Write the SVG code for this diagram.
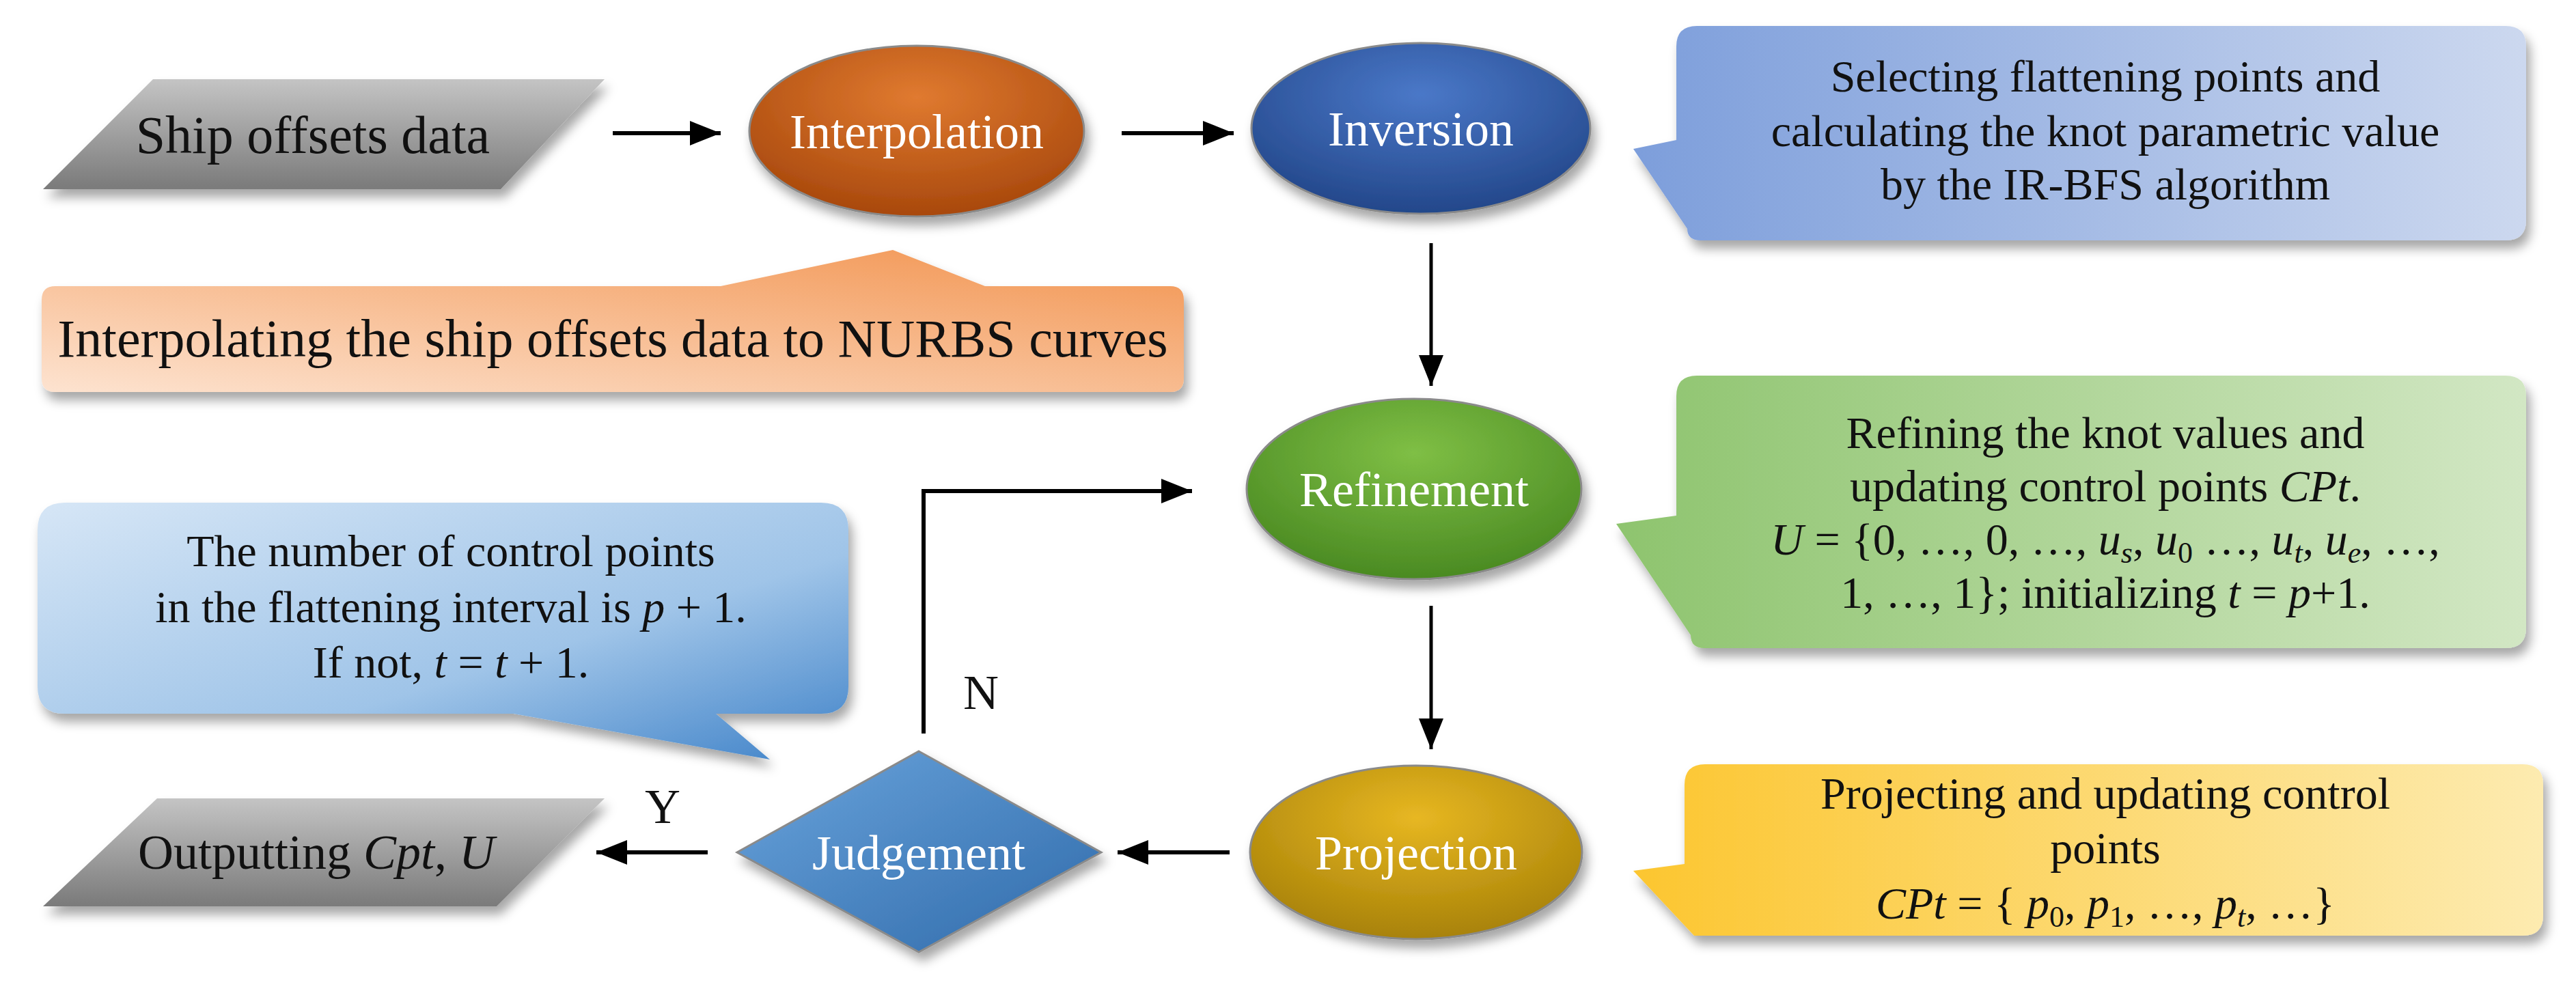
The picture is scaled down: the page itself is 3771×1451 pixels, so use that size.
<svg xmlns="http://www.w3.org/2000/svg" width="3771" height="1451" viewBox="0 0 3771 1451">
<defs>
<filter id="sh" x="-10%" y="-10%" width="125%" height="135%"><feDropShadow dx="6" dy="12" stdDeviation="8" flood-color="#000" flood-opacity="0.35"/></filter>
<linearGradient id="gGray" x1="0" y1="0" x2="0" y2="1"><stop offset="0" stop-color="#c4c4c4"/><stop offset="1" stop-color="#7a7a7a"/></linearGradient>
<radialGradient id="gOr" cx="0.5" cy="0.3" r="0.7"><stop offset="0" stop-color="#e07a30"/><stop offset="1" stop-color="#a8480c"/></radialGradient>
<radialGradient id="gBl" cx="0.5" cy="0.3" r="0.7"><stop offset="0" stop-color="#4a78c8"/><stop offset="1" stop-color="#23478a"/></radialGradient>
<radialGradient id="gGr" cx="0.5" cy="0.3" r="0.7"><stop offset="0" stop-color="#7fbf45"/><stop offset="1" stop-color="#4a8a22"/></radialGradient>
<radialGradient id="gYe" cx="0.5" cy="0.3" r="0.7"><stop offset="0" stop-color="#e7b722"/><stop offset="1" stop-color="#a88208"/></radialGradient>
<linearGradient id="gDi" x1="0" y1="0" x2="1" y2="1"><stop offset="0" stop-color="#6aa4dc"/><stop offset="1" stop-color="#2f6aaa"/></linearGradient>
<linearGradient id="cOr" x1="0" y1="1" x2="1" y2="0"><stop offset="0" stop-color="#fde3d0"/><stop offset="1" stop-color="#f29450"/></linearGradient>
<linearGradient id="cBl" x1="0" y1="0" x2="1" y2="0"><stop offset="0" stop-color="#7d9edb"/><stop offset="1" stop-color="#ccd8ef"/></linearGradient>
<linearGradient id="cGr" x1="0" y1="0" x2="1" y2="0"><stop offset="0" stop-color="#8ec46e"/><stop offset="1" stop-color="#d2e7c4"/></linearGradient>
<linearGradient id="cYe" x1="0" y1="0" x2="1" y2="0"><stop offset="0" stop-color="#fcc630"/><stop offset="1" stop-color="#fdebb0"/></linearGradient>
<linearGradient id="cLb" x1="0" y1="0" x2="1" y2="1"><stop offset="0" stop-color="#d6e6f6"/><stop offset="0.6" stop-color="#9fc4e8"/><stop offset="1" stop-color="#3f82c8"/></linearGradient>
<marker id="ahb" viewBox="0 0 10 8" markerWidth="50" markerHeight="36" refX="10" refY="4" orient="auto" markerUnits="userSpaceOnUse"><path d="M0,0 L10,4 L0,8 Z" fill="#000"/></marker>
</defs>
<style>
text{font-family:"Liberation Serif","Times New Roman",serif;font-size:66px;fill:#111;text-anchor:middle}
.w{fill:#fff;font-size:72px}
.n{font-size:72px}
.big{font-size:78px}
.i{font-style:italic}
.s{font-size:44px}
.line{stroke:#000;stroke-width:6;fill:none}
.thin{stroke:#000;stroke-width:5;fill:none}
.node{stroke:#8a8a8a;stroke-width:3}
</style>
<rect width="3771" height="1451" fill="#fff"/>

<g id="connectors">
<line class="line" x1="897" y1="195" x2="1055" y2="195" marker-end="url(#ahb)"/>
<line class="line" x1="1642" y1="195" x2="1806" y2="195" marker-end="url(#ahb)"/>
<line class="thin" x1="2095" y1="356" x2="2095" y2="565" marker-end="url(#ahb)"/>
<line class="thin" x1="2095" y1="887" x2="2095" y2="1097" marker-end="url(#ahb)"/>
<line class="line" x1="1800" y1="1248" x2="1636" y2="1248" marker-end="url(#ahb)"/>
<line class="line" x1="1036" y1="1248" x2="873" y2="1248" marker-end="url(#ahb)"/>
<polyline class="line" points="1352,1074 1352,719 1745,719" marker-end="url(#ahb)"/>
<text x="1436" y="1038" class="n">N</text>
<text x="970" y="1205" class="n">Y</text>
</g>

<g id="ship-offsets">
<polygon points="224,116 885,116 733,277 63,277" fill="url(#gGray)" filter="url(#sh)"/>
<text x="458" y="224" class="big">Ship offsets data</text>
</g>

<g id="interpolation">
<ellipse cx="1342" cy="192" rx="245" ry="125" fill="url(#gOr)" class="node" filter="url(#sh)"/>
<text x="1342" y="217" class="w">Interpolation</text>
</g>

<g id="inversion">
<ellipse cx="2080" cy="188" rx="248" ry="125" fill="url(#gBl)" class="node" filter="url(#sh)"/>
<text x="2080" y="213" class="w">Inversion</text>
</g>

<g id="refinement">
<ellipse cx="2070" cy="716" rx="245" ry="132" fill="url(#gGr)" class="node" filter="url(#sh)"/>
<text x="2070" y="741" class="w">Refinement</text>
</g>

<g id="projection">
<ellipse cx="2073" cy="1248" rx="243" ry="127" fill="url(#gYe)" class="node" filter="url(#sh)"/>
<text x="2073" y="1273" class="w">Projection</text>
</g>

<g id="judgement">
<polygon points="1345,1100 1612,1248 1345,1394 1079,1248" fill="url(#gDi)" class="node" filter="url(#sh)"/>
<text x="1345" y="1273" class="w">Judgement</text>
</g>

<g id="output">
<polygon points="230,1169 885,1169 727,1327 63,1327" fill="url(#gGray)" filter="url(#sh)"/>
<text x="463" y="1272" class="n">Outputting <tspan class="i">Cpt</tspan>, <tspan class="i">U</tspan></text>
</g>

<g id="note-interpolation">
<path d="M81,419 H1055 L1307,366 L1442,419 H1713 Q1733,419 1733,439 V554 Q1733,574 1713,574 H81 Q61,574 61,554 V439 Q61,419 81,419 Z" fill="url(#cOr)" filter="url(#sh)"/>
<text x="897" y="522" class="big">Interpolating the ship offsets data to NURBS curves</text>
</g>

<g id="note-inversion">
<path d="M2484,38 H3668 Q3698,38 3698,68 V322 Q3698,352 3668,352 H2490 Q2470,352 2470,335 L2391,218 L2454,205 V68 Q2454,38 2484,38 Z" fill="url(#cBl)" filter="url(#sh)"/>
<text x="3082" y="134">Selecting flattening points and</text>
<text x="3082" y="214">calculating the knot parametric value</text>
<text x="3082" y="292">by the IR-BFS algorithm</text>
</g>

<g id="note-refinement">
<path d="M2484,550 H3668 Q3698,550 3698,580 V919 Q3698,949 3668,949 H2495 Q2475,949 2475,930 L2366,767 L2454,755 V580 Q2454,550 2484,550 Z" fill="url(#cGr)" filter="url(#sh)"/>
<text x="3082" y="656">Refining the knot values and</text>
<text x="3082" y="734">updating control points <tspan class="i">CPt</tspan>.</text>
<text x="3082" y="812"><tspan class="i">U</tspan> = {0, …, 0, …, <tspan class="i">u</tspan><tspan class="s i" dy="12">s</tspan><tspan dy="-12">, </tspan><tspan class="i">u</tspan><tspan class="s" dy="12">0</tspan><tspan dy="-12"> …, </tspan><tspan class="i">u</tspan><tspan class="s i" dy="12">t</tspan><tspan dy="-12">,  </tspan><tspan class="i">u</tspan><tspan class="s i" dy="12">e</tspan><tspan dy="-12">, …,</tspan></text>
<text x="3082" y="890">1, …, 1}; initializing <tspan class="i">t</tspan> = <tspan class="i">p</tspan>+1.</text>
</g>

<g id="note-projection">
<path d="M2496,1119 H3693 Q3723,1119 3723,1149 V1340 Q3723,1370 3693,1370 H2480 L2391,1275 L2466,1265 V1149 Q2466,1119 2496,1119 Z" fill="url(#cYe)" filter="url(#sh)"/>
<text x="3082" y="1184">Projecting and updating control</text>
<text x="3082" y="1264">points</text>
<text x="3082" y="1345"><tspan class="i">CPt</tspan> = { <tspan class="i">p</tspan><tspan class="s" dy="12">0</tspan><tspan dy="-12">, </tspan><tspan class="i">p</tspan><tspan class="s" dy="12">1</tspan><tspan dy="-12">, …, </tspan><tspan class="i">p</tspan><tspan class="s i" dy="12">t</tspan><tspan dy="-12">, …}</tspan></text>
</g>

<g id="note-judgement">
<path d="M95,736 H1202 Q1242,736 1242,776 V1005 Q1242,1045 1202,1045 H1048 L1127,1112 L752,1045 H95 Q55,1045 55,1005 V776 Q55,736 95,736 Z" fill="url(#cLb)" filter="url(#sh)"/>
<text x="660" y="829">The number of control points</text>
<text x="660" y="911">in the flattening interval is <tspan class="i">p</tspan> + 1.</text>
<text x="660" y="992">If not, <tspan class="i">t</tspan> = <tspan class="i">t</tspan> + 1.</text>
</g>
</svg>
